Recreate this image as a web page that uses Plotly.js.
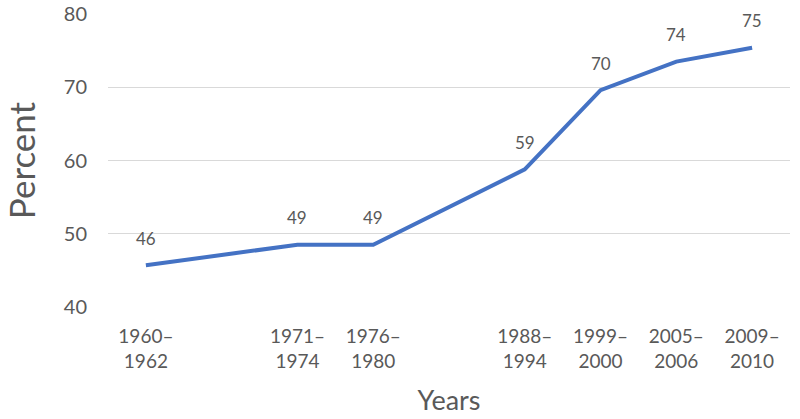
<!DOCTYPE html>
<html>
<head>
<meta charset="utf-8">
<script src="https://cdn.plot.ly/plotly-3.0.1.min.js"></script>
<style>html,body{margin:0;padding:0;background:#fff;}#chart{width:800px;height:419px;}</style>
</head>
<body>
<div id="chart"></div>
<script>
// Period labels and their slot positions on the (Excel-like) date axis
const periods = ["1960–<br>1962", "1971–<br>1974", "1976–<br>1980", "1988–<br>1994", "1999–<br>2000", "2005–<br>2006", "2009–<br>2010"];
const slots = [0, 2, 3, 5, 6, 7, 8];
const percent = [45.7, 48.5, 48.5, 58.8, 69.6, 73.5, 75.4];
const labels = ["46", "49", "49", "59", "70", "74", "75"];
const yTicks = [40, 50, 60, 70, 80];

const font = "Lato, 'Open Sans', sans-serif";
const grey = "#595959";

const trace = {
  x: slots, y: percent, type: "scatter", mode: "lines",
  line: {color: "#4472C4", width: 4},
  hoverinfo: "skip"
};

const annotations = slots.map((s, i) => ({
  x: s, y: percent[i], text: labels[i], showarrow: false,
  yshift: 27, font: {family: font, size: 17, color: grey}
}));

const layout = {
  width: 800, height: 419,
  margin: {l: 108, r: 10, t: 14, b: 112},
  paper_bgcolor: "#fff", plot_bgcolor: "#fff",
  showlegend: false,
  font: {family: font, color: grey},
  xaxis: {
    range: [-0.5, 8.5],
    tickmode: "array", tickvals: slots, ticktext: periods,
    showgrid: false, zeroline: false, showline: false, ticks: "",
    tickfont: {family: font, size: 19, color: grey},
    ticklabelstandoff: 16,
    title: {text: "Years", font: {family: font, size: 27, color: grey}, standoff: 20}
  },
  yaxis: {
    range: [40, 80],
    tickmode: "array", tickvals: yTicks,
    showgrid: true, gridcolor: "#d9d9d9", gridwidth: 1,
    zeroline: false, showline: false, ticks: "",
    tickfont: {family: font, size: 20, color: grey},
    ticklabelstandoff: 20,
    title: {text: "Percent", font: {family: font, size: 35, color: grey}, standoff: 22}
  },
  annotations: annotations
};

Plotly.newPlot("chart", [trace], layout, {displayModeBar: false, staticPlot: true});
</script>
</body>
</html>
